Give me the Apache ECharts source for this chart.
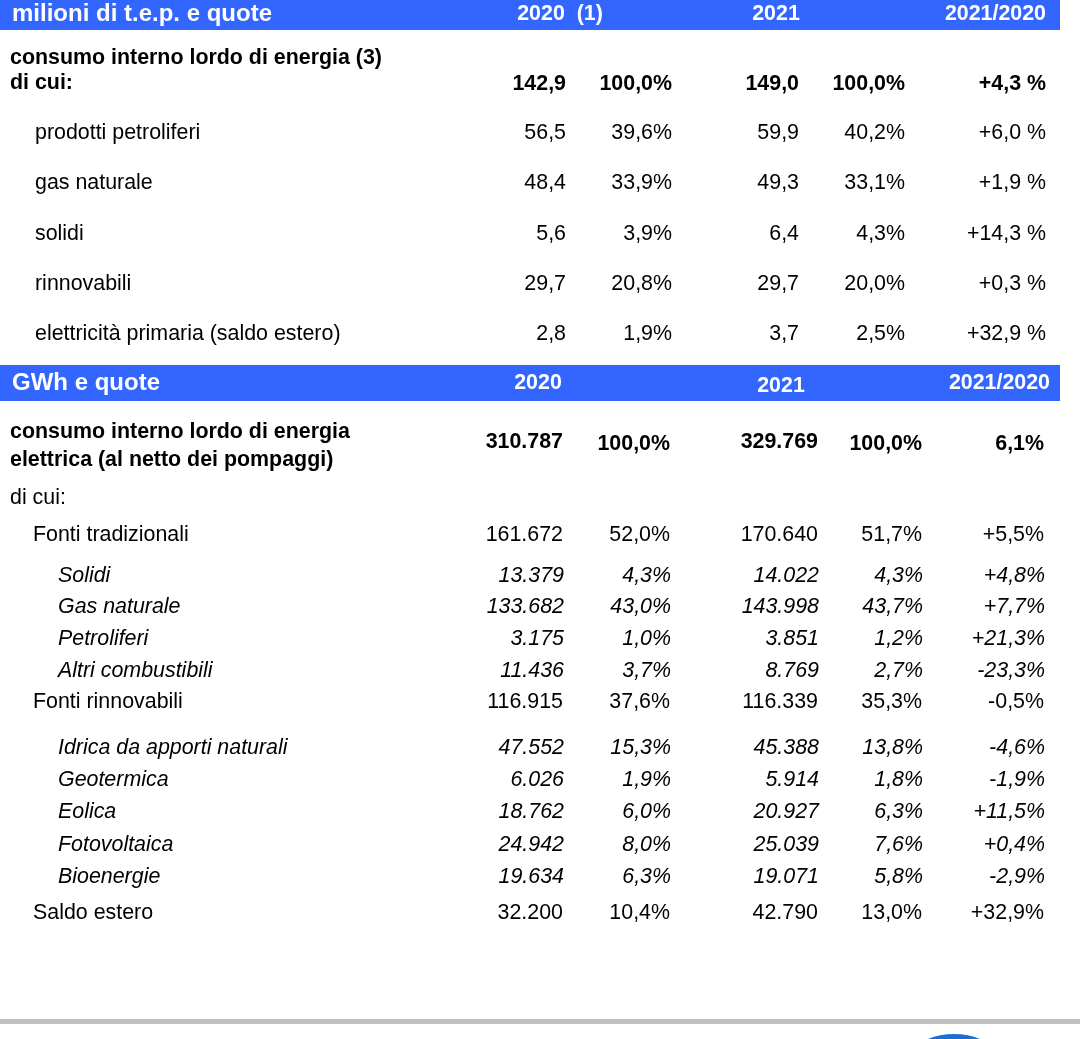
<!DOCTYPE html>
<html>
<head>
<meta charset="utf-8">
<script src="https://cdn.jsdelivr.net/npm/echarts@6/dist/echarts.min.js"></script>
<style>
html,body{margin:0;padding:0;background:#fff;}
#chart{width:1080px;height:1039px;}
</style>
</head>
<body>
<div id="chart"></div>
<script>
// ---------- DATA ----------
const headerTopTitle = 'milioni di t.e.p. e quote';
const headerTopCols = ['2020  (1)', '2021', '2021/2020'];
const headerBottomTitle = 'GWh e quote';
const headerBottomCols = ['2020', '2021', '2021/2020'];

const topTotalLabel = ['consumo interno lordo di energia (3)', 'di cui:'];
const topTotal = [142.9, 100.0, 149.0, 100.0, 4.3];
const topLabels = ['prodotti petroliferi', 'gas naturale', 'solidi', 'rinnovabili', 'elettricità primaria (saldo estero)'];
const top2020 = [56.5, 48.4, 5.6, 29.7, 2.8];
const topPct2020 = [39.6, 33.9, 3.9, 20.8, 1.9];
const top2021 = [59.9, 49.3, 6.4, 29.7, 3.7];
const topPct2021 = [40.2, 33.1, 4.3, 20.0, 2.5];
const topChange = [6.0, 1.9, 14.3, 0.3, 32.9];

const botTotalLabel = ['consumo interno lordo di energia', 'elettrica (al netto dei pompaggi)'];
const botTotal = [310787, 100.0, 329769, 100.0, 6.1];
const botSubtitle = 'di cui:';
const botLabels = ['Fonti tradizionali', 'Solidi', 'Gas naturale', 'Petroliferi', 'Altri combustibili',
  'Fonti rinnovabili', 'Idrica da apporti naturali', 'Geotermica', 'Eolica', 'Fotovoltaica', 'Bioenergie', 'Saldo estero'];
const botKind = ['main', 'sub', 'sub', 'sub', 'sub', 'main', 'sub', 'sub', 'sub', 'sub', 'sub', 'main'];
const bot2020 = [161672, 13379, 133682, 3175, 11436, 116915, 47552, 6026, 18762, 24942, 19634, 32200];
const botPct2020 = [52.0, 4.3, 43.0, 1.0, 3.7, 37.6, 15.3, 1.9, 6.0, 8.0, 6.3, 10.4];
const bot2021 = [170640, 14022, 143998, 3851, 8769, 116339, 45388, 5914, 20927, 25039, 19071, 42790];
const botPct2021 = [51.7, 4.3, 43.7, 1.2, 2.7, 35.3, 13.8, 1.8, 6.3, 7.6, 5.8, 13.0];
const botChange = [5.5, 4.8, 7.7, 21.3, -23.3, -0.5, -4.6, -1.9, 11.5, 0.4, -2.9, 32.9];

// ---------- LAYOUT (positions / styles, not data) ----------
const L = {
  barRight: 1060,
  bars: [[0, 30], [365, 401]],
  h1y: 14, h2y: 383,
  h1Cols: [[560, 'center'], [776, 'center'], [1046, 'right']],
  h2Cols: [[538, 'center'], [781, 'center'], [1050, 'right']],
  topTotalY: [58, 83],
  topRowsY: [133, 183, 234, 284, 334],
  topColsX: [566, 672, 799, 905, 1046],
  botTotalY: [432, 460], botTotalValY: 443,
  botSubY: 498,
  botRowsY: [535, 576, 607, 639, 671, 702, 748, 780, 812, 845, 877, 913],
  botColsX: [563, 670, 818, 922, 1044],
  indent: {main: 33, sub: 58, top: 35, head: 10},
  grayLine: [1019, 1024],
  font: '"Liberation Sans", Arial, Helvetica, sans-serif',
  size: 21.4, headSize: 24,
  blue: '#3366ff'
};

// ---------- FORMATTERS ----------
function fmt1(v) { return v.toFixed(1).replace('.', ','); }
function fmtInt(v) { return String(v).replace(/\B(?=(\d{3})+(?!\d))/g, '.'); }
function fmtPct(v) { return fmt1(v) + '%'; }
function fmtChg(v, sp) { return (v > 0 ? '+' : '') + fmt1(v) + (sp ? ' %' : '%'); }

// ---------- BUILD CELLS ----------
const cells = [];
function cell(x, y, text, o) {
  o = o || {};
  cells.push({value: [x, y], text: text, align: o.align || 'left', weight: o.bold ? 'bold' : 'normal',
    style: o.italic ? 'italic' : 'normal', size: o.size || L.size, color: o.color || '#000'});
}
// header 1
cell(12, L.h1y, headerTopTitle, {bold: true, size: L.headSize, color: '#fff'});
headerTopCols.forEach((t, i) => cell(L.h1Cols[i][0], L.h1y, t, {bold: true, align: L.h1Cols[i][1], color: '#fff'}));
// top totals
cell(L.indent.head, L.topTotalY[0], topTotalLabel[0], {bold: true});
cell(L.indent.head, L.topTotalY[1], topTotalLabel[1], {bold: true});
[fmt1(topTotal[0]), fmtPct(topTotal[1]), fmt1(topTotal[2]), fmtPct(topTotal[3]), fmtChg(topTotal[4], true)]
  .forEach((t, i) => cell(L.topColsX[i], L.topTotalY[1] + 1, t, {bold: true, align: 'right'}));
// top rows
topLabels.forEach((lab, r) => {
  const y = L.topRowsY[r];
  cell(L.indent.top, y, lab);
  [fmt1(top2020[r]), fmtPct(topPct2020[r]), fmt1(top2021[r]), fmtPct(topPct2021[r]), fmtChg(topChange[r], true)]
    .forEach((t, i) => cell(L.topColsX[i], y, t, {align: 'right'}));
});
// header 2
cell(12, L.h2y, headerBottomTitle, {bold: true, size: L.headSize, color: '#fff'});
headerBottomCols.forEach((t, i) => cell(L.h2Cols[i][0], L.h2y + (i === 1 ? 3 : 0), t, {bold: true, align: L.h2Cols[i][1], color: '#fff'}));
// bottom totals
cell(L.indent.head, L.botTotalY[0], botTotalLabel[0], {bold: true});
cell(L.indent.head, L.botTotalY[1], botTotalLabel[1], {bold: true});
[fmtInt(botTotal[0]), fmtPct(botTotal[1]), fmtInt(botTotal[2]), fmtPct(botTotal[3]), fmtPct(botTotal[4])]
  .forEach((t, i) => cell(L.botColsX[i], L.botTotalValY + (i % 2 === 1 || i === 4 ? 1 : -1), t, {bold: true, align: 'right'}));
cell(L.indent.head, L.botSubY, botSubtitle);
// bottom rows
botLabels.forEach((lab, r) => {
  const y = L.botRowsY[r];
  const sub = botKind[r] === 'sub';
  cell(sub ? L.indent.sub : L.indent.main, y, lab, {italic: sub});
  [fmtInt(bot2020[r]), fmtPct(botPct2020[r]), fmtInt(bot2021[r]), fmtPct(botPct2021[r]), fmtChg(botChange[r], false)]
    .forEach((t, i) => cell(L.botColsX[i] + (sub ? 1 : 0), y, t, {align: 'right', italic: sub}));
});

// ---------- CHART ----------
const chart = echarts.init(document.getElementById('chart'), null, {renderer: 'canvas'});
chart.setOption({
  animation: false,
  backgroundColor: '#fff',
  grid: {left: 0, right: 0, top: 0, bottom: 0},
  xAxis: {type: 'value', min: 0, max: 1080, show: false},
  yAxis: {type: 'value', min: 0, max: 1039, inverse: true, show: false},
  series: [
    {
      type: 'custom', name: 'bars', silent: true,
      data: L.bars.map(b => [0, b[0], L.barRight, b[1]]),
      renderItem: function (params, api) {
        const p0 = api.coord([api.value(0), api.value(1)]);
        const p1 = api.coord([api.value(2), api.value(3)]);
        return {type: 'rect', shape: {x: p0[0], y: p0[1], width: p1[0] - p0[0], height: p1[1] - p0[1]},
          style: {fill: L.blue}};
      }
    },
    {
      type: 'custom', name: 'rule', silent: true,
      data: [[0, L.grayLine[0], 1080, L.grayLine[1]]],
      renderItem: function (params, api) {
        const p0 = api.coord([api.value(0), api.value(1)]);
        const p1 = api.coord([api.value(2), api.value(3)]);
        return {type: 'rect', shape: {x: p0[0], y: p0[1], width: p1[0] - p0[0], height: p1[1] - p0[1]},
          style: {fill: '#c0c0c0'}};
      }
    },
    {
      type: 'custom', name: 'logo', silent: true,
      data: [[954, 1104, 1034]],
      renderItem: function (params, api) {
        const c = api.coord([api.value(0), api.value(1)]);
        const t = api.coord([api.value(0), api.value(2)]);
        return {type: 'circle', shape: {cx: c[0], cy: c[1], r: c[1] - t[1]}, style: {fill: '#1a6fd6'}};
      }
    },
    {
      type: 'custom', name: 'cells', silent: true,
      data: cells.map(c => c.value),
      renderItem: function (params, api) {
        const c = cells[params.dataIndex];
        const p = api.coord([api.value(0), api.value(1)]);
        return {type: 'text', x: p[0], y: p[1],
          style: {text: c.text, fill: c.color, fontSize: c.size, fontFamily: L.font, fontWeight: c.weight,
            fontStyle: c.style, align: c.align, verticalAlign: 'middle', textAlign: c.align, textVerticalAlign: 'middle'}};
      }
    }
  ]
});
</script>
</body>
</html>
